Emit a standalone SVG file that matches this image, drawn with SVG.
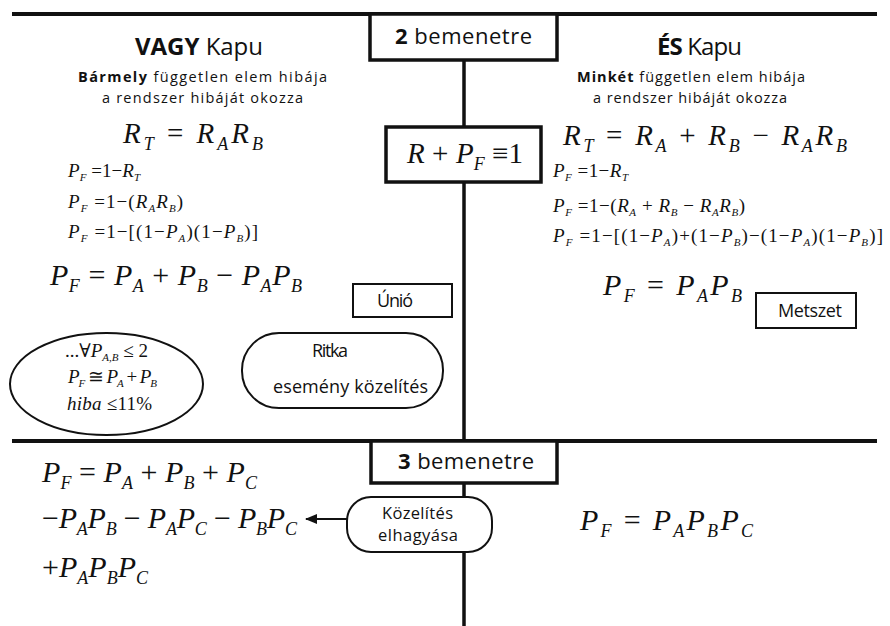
<svg xmlns="http://www.w3.org/2000/svg" width="890" height="626" viewBox="0 0 890 626">
  <style>
    .sans { font-family: "Open Sans", "Liberation Sans", sans-serif; fill: #111; }
    .b { font-weight: bold; }
    .m { font-family: "Liberation Serif", "Times New Roman", "DejaVu Serif", serif; fill: #111; }
    .i { font-style: italic; }
    .f27 { font-size: 30px; }
    .f26 { font-size: 29px; }
    .f18 { font-size: 19px; }
    .s27 { font-size: 18px; font-style: italic; }
    .s18 { font-size: 11px; font-style: italic; }
    .heavy { fill: none; stroke: #111; stroke-width: 4; }
    .box { fill: #fff; stroke: #111; stroke-width: 3.5; }
    .thin { fill: #fff; stroke: #111; stroke-width: 2; }
    .wire { fill: none; stroke: #111; stroke-width: 3.5; }
  </style>
  <defs>
    <marker id="arrow" viewBox="0 0 12 10" refX="11" refY="5" markerWidth="12" markerHeight="10" markerUnits="userSpaceOnUse" orient="auto">
      <path d="M0,0 L12,5 L0,10 z" fill="#111"/>
    </marker>
  </defs>
  <rect width="890" height="626" fill="#fff"/>

  <!-- dividers and spine -->
  <g id="connectors">
    <line class="heavy" x1="12" y1="14" x2="877" y2="14"/>
    <line class="heavy" x1="12" y1="441" x2="877" y2="441"/>
    <line class="wire" x1="464" y1="14" x2="464" y2="626"/>
    <line x1="348" y1="519" x2="306" y2="519" stroke="#111" stroke-width="2" marker-end="url(#arrow)"/>
  </g>

  <!-- header boxes on the spine -->
  <g id="two-inputs">
    <rect class="box" x="370" y="14" width="187" height="46"/>
    <text class="sans" x="395" y="44" font-size="22" textLength="137"><tspan class="b">2</tspan> bemenetre</text>
  </g>
  <g id="identity">
    <rect class="box" x="386" y="127" width="155" height="55"/>
    <text class="m f26" x="407" y="163" textLength="116"><tspan class="i">R</tspan> + <tspan class="i">P</tspan><tspan class="s27" dy="7">F</tspan><tspan dy="-7"> ≡1</tspan></text>
  </g>
  <g id="three-inputs">
    <rect class="box" x="371" y="441" width="186" height="42"/>
    <text class="sans" x="398" y="469" font-size="22" textLength="136"><tspan class="b">3</tspan> bemenetre</text>
  </g>

  <!-- OR gate column -->
  <g id="or-gate">
    <text class="sans" x="135" y="55" font-size="24" textLength="128"><tspan class="b">VAGY</tspan> Kapu</text>
    <text class="sans" x="78" y="82" font-size="14.5" textLength="249"><tspan class="b">Bármely</tspan> független elem hibája</text>
    <text class="sans" x="102" y="103" font-size="14.5" textLength="201">a rendszer hibáját okozza</text>
    <text class="m f26" x="123" y="143" textLength="140"><tspan class="i">R</tspan><tspan class="s27" dy="7">T</tspan><tspan dy="-7"> = </tspan><tspan class="i">R</tspan><tspan class="s27" dy="7">A</tspan><tspan class="i" dy="-7">R</tspan><tspan class="s27" dy="7">B</tspan></text>
    <text class="m f18" x="68" y="177" textLength="72"><tspan class="i">P</tspan><tspan class="s18" dy="4">F</tspan><tspan dy="-4"> =1−</tspan><tspan class="i">R</tspan><tspan class="s18" dy="4">T</tspan></text>
    <text class="m f18" x="68" y="208" textLength="115"><tspan class="i">P</tspan><tspan class="s18" dy="4">F</tspan><tspan dy="-4"> =1−(</tspan><tspan class="i">R</tspan><tspan class="s18" dy="4">A</tspan><tspan class="i" dy="-4">R</tspan><tspan class="s18" dy="4">B</tspan><tspan dy="-4">)</tspan></text>
    <text class="m f18" x="68" y="238" textLength="190"><tspan class="i">P</tspan><tspan class="s18" dy="4">F</tspan><tspan dy="-4"> =1−[(1−</tspan><tspan class="i">P</tspan><tspan class="s18" dy="4">A</tspan><tspan dy="-4">)(1−</tspan><tspan class="i">P</tspan><tspan class="s18" dy="4">B</tspan><tspan dy="-4">)]</tspan></text>
    <text class="m f27" x="50" y="285" textLength="252"><tspan class="i">P</tspan><tspan class="s27" dy="7">F</tspan><tspan dy="-7"> = </tspan><tspan class="i">P</tspan><tspan class="s27" dy="7">A</tspan><tspan dy="-7"> + </tspan><tspan class="i">P</tspan><tspan class="s27" dy="7">B</tspan><tspan dy="-7"> − </tspan><tspan class="i">P</tspan><tspan class="s27" dy="7">A</tspan><tspan class="i" dy="-7">P</tspan><tspan class="s27" dy="7">B</tspan></text>
  </g>
  <g id="union">
    <rect class="thin" x="353" y="284" width="99" height="33"/>
    <text class="sans" x="377" y="307" font-size="18" textLength="36">Únió</text>
  </g>
  <g id="rare-event-condition">
    <ellipse class="thin" cx="106.5" cy="384" rx="96.5" ry="51"/>
    <text class="m f18" x="65" y="357" textLength="83">...∀<tspan class="i">P</tspan><tspan class="s18" dy="4">A,B</tspan><tspan dy="-4"> ≤ 2</tspan></text>
    <text class="m f18" x="68" y="383" textLength="89"><tspan class="i">P</tspan><tspan class="s18" dy="4">F</tspan><tspan dy="-4"> ≅ </tspan><tspan class="i">P</tspan><tspan class="s18" dy="4">A</tspan><tspan dy="-4"> + </tspan><tspan class="i">P</tspan><tspan class="s18" dy="4">B</tspan></text>
    <text class="m f18" x="67" y="410" textLength="85"><tspan class="i">hiba</tspan> ≤11%</text>
  </g>
  <g id="rare-event">
    <rect class="thin" x="242" y="333" width="201" height="75" rx="37" ry="37"/>
    <text class="sans" x="312" y="357" font-size="18" textLength="36">Ritka</text>
    <text class="sans" x="273" y="393" font-size="18" textLength="155">esemény közelítés</text>
  </g>

  <!-- AND gate column -->
  <g id="and-gate">
    <text class="sans" x="657" y="55" font-size="24" textLength="85"><tspan class="b">ÉS</tspan> Kapu</text>
    <text class="sans" x="577" y="82" font-size="14.5" textLength="228"><tspan class="b">Minkét</tspan> független elem hibája</text>
    <text class="sans" x="593" y="103" font-size="14.5" textLength="194">a rendszer hibáját okozza</text>
    <text class="m f26" x="563" y="145" textLength="284"><tspan class="i">R</tspan><tspan class="s27" dy="7">T</tspan><tspan dy="-7"> = </tspan><tspan class="i">R</tspan><tspan class="s27" dy="7">A</tspan><tspan dy="-7"> + </tspan><tspan class="i">R</tspan><tspan class="s27" dy="7">B</tspan><tspan dy="-7"> − </tspan><tspan class="i">R</tspan><tspan class="s27" dy="7">A</tspan><tspan class="i" dy="-7">R</tspan><tspan class="s27" dy="7">B</tspan></text>
    <text class="m f18" x="553" y="177" textLength="75"><tspan class="i">P</tspan><tspan class="s18" dy="4">F</tspan><tspan dy="-4"> =1−</tspan><tspan class="i">R</tspan><tspan class="s18" dy="4">T</tspan></text>
    <text class="m f18" x="553" y="212" textLength="192"><tspan class="i">P</tspan><tspan class="s18" dy="4">F</tspan><tspan dy="-4"> =1−(</tspan><tspan class="i">R</tspan><tspan class="s18" dy="4">A</tspan><tspan dy="-4"> + </tspan><tspan class="i">R</tspan><tspan class="s18" dy="4">B</tspan><tspan dy="-4"> − </tspan><tspan class="i">R</tspan><tspan class="s18" dy="4">A</tspan><tspan class="i" dy="-4">R</tspan><tspan class="s18" dy="4">B</tspan><tspan dy="-4">)</tspan></text>
    <text class="m f18" x="553" y="242" textLength="330"><tspan class="i">P</tspan><tspan class="s18" dy="4">F</tspan><tspan dy="-4"> =1−[(1−</tspan><tspan class="i">P</tspan><tspan class="s18" dy="4">A</tspan><tspan dy="-4">)+(1−</tspan><tspan class="i">P</tspan><tspan class="s18" dy="4">B</tspan><tspan dy="-4">)−(1−</tspan><tspan class="i">P</tspan><tspan class="s18" dy="4">A</tspan><tspan dy="-4">)(1−</tspan><tspan class="i">P</tspan><tspan class="s18" dy="4">B</tspan><tspan dy="-4">)]</tspan></text>
    <text class="m f27" x="603" y="295" textLength="139"><tspan class="i">P</tspan><tspan class="s27" dy="7">F</tspan><tspan dy="-7"> = </tspan><tspan class="i">P</tspan><tspan class="s27" dy="7">A</tspan><tspan class="i" dy="-7">P</tspan><tspan class="s27" dy="7">B</tspan></text>
  </g>
  <g id="intersection">
    <rect class="thin" x="756" y="293" width="100" height="35"/>
    <text class="sans" x="778" y="317" font-size="18" textLength="64">Metszet</text>
  </g>

  <!-- three-input formulas -->
  <g id="or-three">
    <text class="m f27" x="42" y="482" textLength="215"><tspan class="i">P</tspan><tspan class="s27" dy="7">F</tspan><tspan dy="-7"> = </tspan><tspan class="i">P</tspan><tspan class="s27" dy="7">A</tspan><tspan dy="-7"> + </tspan><tspan class="i">P</tspan><tspan class="s27" dy="7">B</tspan><tspan dy="-7"> + </tspan><tspan class="i">P</tspan><tspan class="s27" dy="7">C</tspan></text>
    <text class="m f27" x="42" y="528" textLength="255">−<tspan class="i">P</tspan><tspan class="s27" dy="7">A</tspan><tspan class="i" dy="-7">P</tspan><tspan class="s27" dy="7">B</tspan><tspan dy="-7"> − </tspan><tspan class="i">P</tspan><tspan class="s27" dy="7">A</tspan><tspan class="i" dy="-7">P</tspan><tspan class="s27" dy="7">C</tspan><tspan dy="-7"> − </tspan><tspan class="i">P</tspan><tspan class="s27" dy="7">B</tspan><tspan class="i" dy="-7">P</tspan><tspan class="s27" dy="7">C</tspan></text>
    <text class="m f27" x="42" y="577" textLength="106">+<tspan class="i">P</tspan><tspan class="s27" dy="7">A</tspan><tspan class="i" dy="-7">P</tspan><tspan class="s27" dy="7">B</tspan><tspan class="i" dy="-7">P</tspan><tspan class="s27" dy="7">C</tspan></text>
  </g>
  <g id="drop-approximation">
    <rect class="thin" x="347" y="497" width="145" height="55" rx="24" ry="24"/>
    <text class="sans" x="382" y="519" font-size="16.5" textLength="71">Közelítés</text>
    <text class="sans" x="378" y="541" font-size="16.5" textLength="80">elhagyása</text>
  </g>
  <g id="and-three">
    <text class="m f27" x="580" y="530" textLength="173"><tspan class="i">P</tspan><tspan class="s27" dy="7">F</tspan><tspan dy="-7"> = </tspan><tspan class="i">P</tspan><tspan class="s27" dy="7">A</tspan><tspan class="i" dy="-7">P</tspan><tspan class="s27" dy="7">B</tspan><tspan class="i" dy="-7">P</tspan><tspan class="s27" dy="7">C</tspan></text>
  </g>
</svg>
